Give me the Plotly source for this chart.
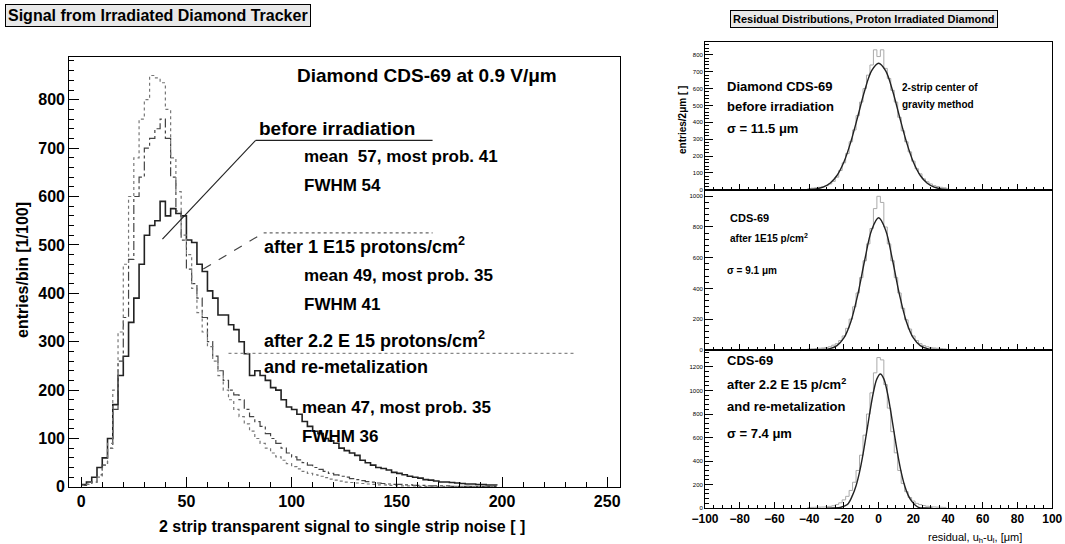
import plotly.graph_objects as go

# ---- left: signal distributions (bin width 2.5, bin starts) ----
bin_w = 2.5
sig_before = [5, 10, 20, 40, 60, 100, 170, 230, 270, 340, 390, 460, 520, 540, 550, 590, 560, 575, 565, 560,
              510, 505, 460, 445, 405, 390, 355, 355, 335, 325, 300, 275, 230, 240, 230, 220, 205, 200, 180, 165,
              160, 150, 135, 125, 115, 110, 100, 95, 90, 80, 75, 70, 65, 55, 50, 45, 40, 38, 35, 30,
              28, 25, 22, 20, 18, 15, 14, 12, 10, 10, 9, 8, 7, 6, 6, 5, 5, 4, 4, 3]
sig_1e15 = [3, 5, 10, 25, 45, 80, 160, 260, 350, 470, 600, 640, 700, 720, 740, 760, 720, 640, 570, 510,
            450, 420, 390, 350, 300, 270, 240, 220, 200, 190, 180, 160, 145, 135, 125, 110, 100, 90, 80, 70,
            62, 56, 50, 45, 40, 36, 32, 28, 25, 22, 20, 17, 15, 13, 11, 10, 8, 7, 6, 5,
            5, 4, 4, 3, 3, 3, 2, 2, 2, 2, 1, 1, 1, 1, 1, 1, 1, 1, 1, 1]
sig_22e15 = [3, 5, 10, 20, 45, 90, 200, 320, 460, 600, 680, 760, 800, 850, 845, 835, 780, 680, 610, 520,
             480, 410, 360, 320, 290, 260, 230, 200, 180, 160, 145, 130, 115, 100, 90, 80, 70, 62, 55, 48,
             42, 37, 32, 28, 25, 22, 19, 16, 14, 12, 10, 9, 8, 7, 6, 5, 4, 4, 3, 3,
             2, 2, 2, 2, 1, 1, 1, 1, 1, 1, 1, 1, 1, 1, 1, 1, 1, 1, 1, 1]
sig_x = [i * bin_w for i in range(len(sig_before))]

# ---- right: residual distributions (bin width 2) ----
res_x = list(range(-40, 42, 2))
res_before = [8, 10, 12, 15, 18, 25, 35, 50, 75, 115, 160, 215, 285, 355, 440, 520, 600, 680, 740, 830, 790,
              830, 720, 660, 590, 520, 430, 350, 285, 225, 170, 125, 95, 65, 48, 35, 25, 20, 15, 12, 10]
res_1e15 = [5, 6, 8, 10, 12, 15, 20, 30, 40, 60, 90, 140, 200, 280, 370, 470, 580, 690, 790, 920, 1000,
            960, 800, 690, 580, 470, 370, 270, 195, 135, 90, 60, 40, 28, 20, 15, 12, 10, 8, 6, 5]
res_22e15 = [5, 6, 7, 8, 9, 10, 15, 20, 30, 45, 70, 100, 150, 220, 320, 450, 620, 800, 980, 1150, 1280,
             1260, 1050, 850, 650, 470, 320, 210, 140, 90, 60, 40, 30, 22, 16, 12, 10, 8, 7, 6, 5]
fit_x = [-40, -36, -32, -28, -24, -20, -16, -12, -8, -4, 0, 4, 8, 12, 16, 20, 24, 28, 32, 36, 40]
fit_before = [2, 6, 16, 39, 85, 165, 285, 435, 589, 706, 750, 706, 589, 435, 285, 165, 85, 39, 16, 6, 2]
fit_1e15 = [0, 0, 2, 8, 27, 77, 183, 360, 585, 781, 860, 781, 585, 360, 183, 77, 27, 8, 2, 0, 0]
fit3_x = [-30, -26, -22, -18, -15, -13, -11, -9, -7, -5, -3, -1, 1, 3, 5, 7, 9, 11, 13, 15, 17, 19, 23, 27, 31]
fit_22e15 = [0, 1, 6, 30, 110, 190, 306, 457, 635, 820, 985, 1099, 1140, 1099, 985, 820, 635, 457, 306, 190,
             110, 59, 6, 1, 0]

W, H = 1065, 544
FONT = "Liberation Sans"


def px(x, y):
    return x / W, 1 - y / H


fig = go.Figure()

# left histograms
fig.add_trace(go.Scatter(x=sig_x, y=sig_before, line_shape="hv", mode="lines",
                         line=dict(color="#222", width=1.6), xaxis="x", yaxis="y"))
fig.add_trace(go.Scatter(x=sig_x, y=sig_1e15, line_shape="hv", mode="lines",
                         line=dict(color="#444", width=1.2, dash="dashdot"), xaxis="x", yaxis="y"))
fig.add_trace(go.Scatter(x=sig_x, y=sig_22e15, line_shape="hv", mode="lines",
                         line=dict(color="#777", width=1.2, dash="dot"), xaxis="x", yaxis="y"))

# right panels
panels = [(res_before, fit_x, fit_before, "2"), (res_1e15, fit_x, fit_1e15, "3"),
          (res_22e15, fit3_x, fit_22e15, "4")]
for hist, fx, fy, n in panels:
    fig.add_trace(go.Scatter(x=[v - 1 for v in res_x], y=hist, line_shape="hv", mode="lines",
                             line=dict(color="#aaa", width=1), xaxis="x" + n, yaxis="y" + n))
    fig.add_trace(go.Scatter(x=fx, y=fy, line_shape="spline", mode="lines",
                             line=dict(color="#222", width=1.4), xaxis="x" + n, yaxis="y" + n))

ax_common = dict(showline=True, mirror=True, linecolor="black", linewidth=1, ticks="inside",
                 showgrid=False, zeroline=False, tickcolor="black", automargin=False)

fig.update_layout(
    autosize=True, margin=dict(l=0, r=0, t=0, b=0), showlegend=False,
    plot_bgcolor="white", paper_bgcolor="white",
    font=dict(family=FONT, color="black"),
    xaxis=dict(domain=[0.065, 0.582], range=[-5.7, 256], tickvals=[0, 50, 100, 150, 200, 250],
               ticklen=10, tickfont=dict(size=16, weight="bold"),
               minor=dict(ticks="inside", ticklen=5, dtick=10, tickcolor="black"), **ax_common),
    yaxis=dict(domain=[0.105, 0.895], range=[0, 888], dtick=100, ticklen=10,
               tickfont=dict(size=16, weight="bold"),
               minor=dict(ticks="inside", ticklen=5, dtick=20, tickcolor="black"), **ax_common),
)
rx = [0.662, 0.988]
ydoms = [[0.651, 0.923], [0.357, 0.651], [0.066, 0.357]]
yranges = [[0, 877], [0, 1042], [0, 1346]]
ydt = [100, 200, 200]
for i, n in enumerate(["2", "3", "4"]):
    fig.layout["xaxis" + n] = dict(domain=rx, range=[-100, 100], dtick=20, ticklen=6,
                                   showticklabels=(n == "4"), tickfont=dict(size=12, weight="bold"),
                                   anchor="y" + n,
                                   minor=dict(ticks="inside", ticklen=3, dtick=5, tickcolor="black"),
                                   **ax_common)
    fig.layout["yaxis" + n] = dict(domain=ydoms[i], range=yranges[i], dtick=ydt[i], ticklen=8,
                                   tickfont=dict(size=6), anchor="x" + n,
                                   minor=dict(ticks="inside", ticklen=4, dtick=ydt[i] / 5, tickcolor="black"),
                                   **ax_common)

# reference lines (in data coords of left plot)
fig.add_shape(type="line", x0=38.6, y0=512, x1=82.9, y1=716, line=dict(color="#222", width=1.2))
fig.add_shape(type="line", x0=82.9, y0=716, x1=167, y1=716, line=dict(color="#222", width=1.2))
fig.add_shape(type="line", x0=58, y0=450, x1=86.7, y1=525, line=dict(color="#444", width=1.2, dash="dash"))
fig.add_shape(type="line", x0=86.7, y0=525, x1=167, y1=525, line=dict(color="#666", width=1.2, dash="dot"))
fig.add_shape(type="line", x0=70, y0=276, x1=235, y1=276, line=dict(color="#888", width=1.2, dash="dot"))

B = lambda s: "<b>" + s + "</b>"
texts = [
    (295, 75, "Diamond CDS-69 at 0.9 V/μm", 19),
    (257, 128, "before irradiation", 19),
    (302, 156, "mean  57, most prob. 41", 17),
    (302, 185, "FWHM 54", 17),
    (262, 246, "after 1 E15 protons/cm<sup>2</sup>", 18),
    (302, 275, "mean 49, most prob. 35", 17),
    (302, 304, "FWHM 41", 17),
    (262, 339, "after 2.2 E 15 protons/cm<sup>2</sup>", 18),
    (262, 367, "and re-metalization", 18),
    (300, 407, "mean 47, most prob. 35", 17),
    (300, 436, "FWHM 36", 17),
    (725, 86, "Diamond CDS-69", 13),
    (725, 107, "before irradiation", 13),
    (725, 128, "σ = 11.5 μm", 13),
    (728, 218, "CDS-69", 11),
    (728, 238, "after 1E15 p/cm<sup>2</sup>", 10),
    (725, 270, "σ = 9.1 μm", 10),
    (725, 360, "CDS-69", 13),
    (725, 384, "after 2.2 E 15 p/cm<sup>2</sup>", 13),
    (725, 406, "and re-metalization", 13),
    (725, 433, "σ = 7.4 μm", 13),
    (900, 88, "2-strip center of", 10),
    (900, 105, "gravity method", 10),
]
for x, y, t, s in texts:
    ax_, ay_ = px(x, y)
    fig.add_annotation(x=ax_, y=ay_, xref="paper", yref="paper", text=B(t), showarrow=False,
                       xanchor="left", yanchor="middle", font=dict(size=s))


def label(x, y, text, size, **kw):
    fig.add_annotation(x=px(x, y)[0], y=px(x, y)[1], xref="paper", yref="paper", showarrow=False,
                       text=text, font=dict(size=size), yanchor="middle", **kw)


label(5, 15, B("Signal from Irradiated Diamond Tracker"), 16, xanchor="left",
      bgcolor="#e8e8e8", bordercolor="black", borderwidth=1, borderpad=2)
label(864, 19, B("Residual Distributions, Proton Irradiated Diamond"), 11, xanchor="center",
      bgcolor="#e8e8e8", bordercolor="black", borderwidth=1, borderpad=2)
label(22, 270, B("entries/bin [1/100]"), 16, xanchor="center", textangle=-90)
label(342, 526, B("2 strip transparent signal to single strip noise [ ]"), 16, xanchor="center")
label(682, 120, B("entries/2μm [ ]"), 10, xanchor="center", textangle=-90)
label(975, 538, "residual, u<sub>h</sub>-u<sub>l</sub>, [μm]", 11, xanchor="center")

fig.write_html("out.html", default_width="100vw", default_height="100vh",
               config={"displayModeBar": False},
               post_script="document.body.style.margin='0';document.body.style.overflow='hidden';"
                           "Plotly.Plots.resize(document.getElementById('{plot_id}'));")
